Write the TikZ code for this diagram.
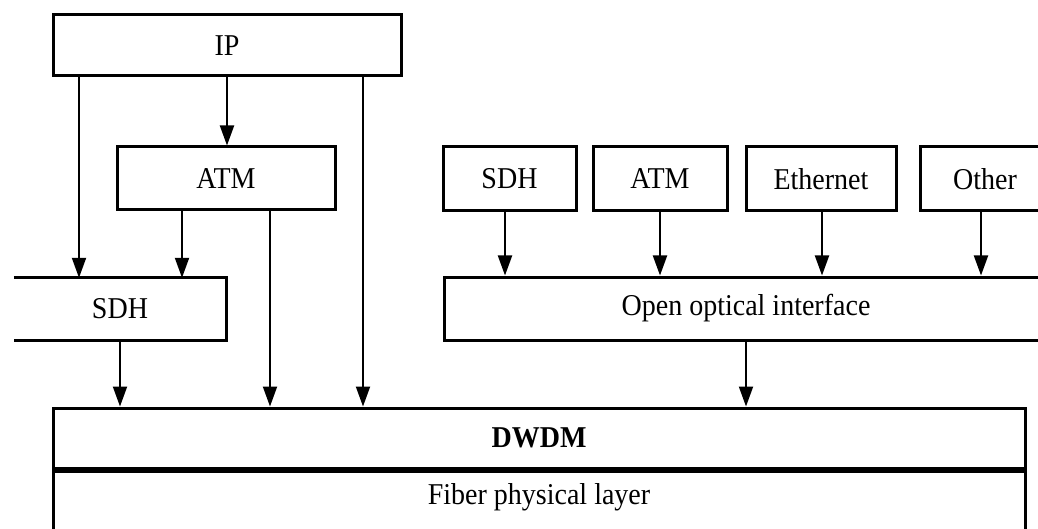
\documentclass[tikz,border=0pt]{standalone}
\usepackage{fontspec}
\setmainfont{Liberation Serif}
\usetikzlibrary{arrows.meta}
\begin{document}
\begin{tikzpicture}[x=1pt,y=-1pt,
  every node/.style={font=\fontsize{28}{31}\selectfont, inner sep=0pt},
  boxn/.style={draw, line width=3pt, minimum width=#1, rectangle},
  border/.style={line width=3pt},
  arr/.style={line width=2pt, -{Triangle[length=20pt,width=14pt]}}]
\useasboundingbox (0,0) rectangle (1038,529);
\clip (0,0) rectangle (1038,529);
% left stack
\node[boxn=348pt, minimum height=61pt] (ip) at (227,45.5) {\scalebox{1}[1.08]{IP}};
\node[boxn=218pt, minimum height=63pt] (atmL) at (226,178.5) {\scalebox{1}[1.08]{ATM}};
\node[minimum width=212pt, minimum height=62pt] (sdhL) at (120,309) {\scalebox{1}[1.08]{SDH}};
\draw[border] (sdhL.north west) -- (sdhL.north east) -- (sdhL.south east) -- (sdhL.south west);
% right stack
\node[boxn=133pt, minimum height=64pt] (sdhR) at (509.5,179) {\scalebox{1}[1.08]{SDH}};
\node[boxn=134pt, minimum height=64pt] (atmR) at (660,179) {\scalebox{1}[1.08]{ATM}};
\node[boxn=150pt, minimum height=64pt] (eth) at (821,179) {\scalebox{1}[1.08]{Ethernet}};
\node[boxn=130pt, minimum height=64pt] (oth) at (985,179) {\scalebox{1}[1.08]{Other}};
\node[boxn=604pt, minimum height=63pt] (ooi) at (746,308.5) {\scalebox{1}[1.08]{Open optical interface}};
% bottom
\node[boxn=972pt, minimum height=60pt] (dwdm) at (539,438) {\scalebox{1}[1.08]{\bfseries DWDM}};
\node (fiber) at (539,497) {\scalebox{1}[1.08]{Fiber physical layer}};
\coordinate (fbl) at (53,545);
\coordinate (fbr) at (1025,545);
\draw[border] (fbl) -- (fbl |- 0,471.6) -- (fbr |- 0,471.6) -- (fbr);
% connectors
\draw[arr] (79,0 |- ip.south) -- (79,0 |- sdhL.north);
\draw[arr] (227,0 |- ip.south) -- (227,0 |- atmL.north);
\draw[arr] (363,0 |- ip.south) -- (363,0 |- dwdm.north);
\draw[arr] (182,0 |- atmL.south) -- (182,0 |- sdhL.north);
\draw[arr] (270,0 |- atmL.south) -- (270,0 |- dwdm.north);
\draw[arr] (120,0 |- sdhL.south) -- (120,0 |- dwdm.north);
\draw[arr] (505,0 |- sdhR.south) -- (505,0 |- ooi.north);
\draw[arr] (660,0 |- atmR.south) -- (660,0 |- ooi.north);
\draw[arr] (822,0 |- eth.south) -- (822,0 |- ooi.north);
\draw[arr] (981,0 |- oth.south) -- (981,0 |- ooi.north);
\draw[arr] (746,0 |- ooi.south) -- (746,0 |- dwdm.north);
\end{tikzpicture}
\end{document}
